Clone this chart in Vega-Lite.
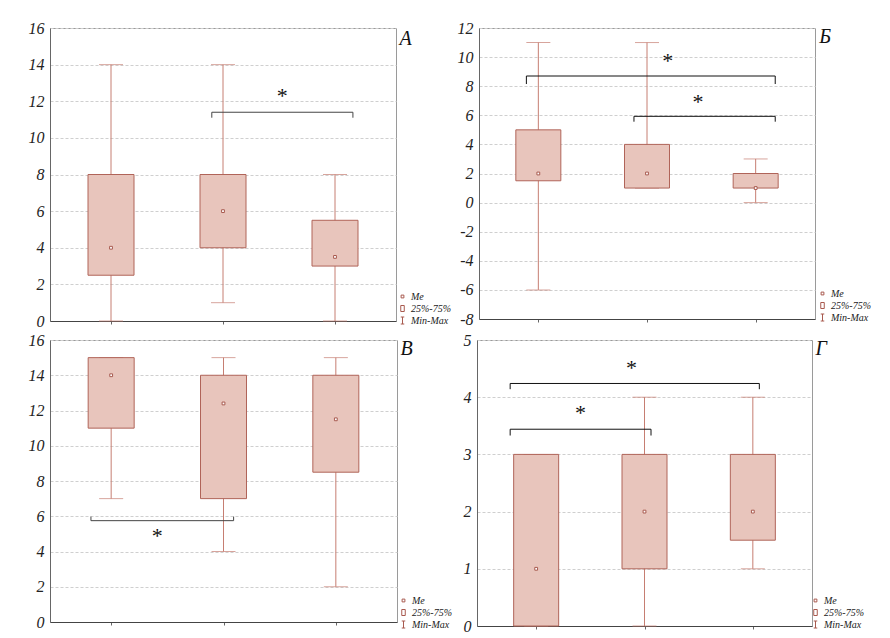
{
  "$schema": "https://vega.github.io/schema/vega-lite/v6.json",
  "padding": {"left": 27, "top": 19, "right": 0, "bottom": 0},
  "background": "white",
  "config": {
    "view": {"stroke": "#9a9a9a", "strokeWidth": 1},
    "font": "Liberation Serif",
    "axis": {"labelFont": "Liberation Serif", "labelFontStyle": "italic", "labelFontSize": 16, "labelColor": "#222", "labelOverlap": false, "domainColor": "#666", "tickColor": "#666", "title": null, "gridColor": "#cfcfcf", "gridDash": [3, 2]}
  },
  "datasets": {
    "A": [
      {"g": 1, "min": 0, "q1": 2.5, "med": 4, "q3": 8, "max": 14},
      {"g": 2, "min": 1, "q1": 4, "med": 6, "q3": 8, "max": 14},
      {"g": 3, "min": 0, "q1": 3, "med": 3.5, "q3": 5.5, "max": 8}
    ],
    "A_s": [
      {"xa": 1.9, "xb": 3.16, "y": 11.4, "yEnd": 11.1, "sx": 2.53, "sy": 12.5}
    ],
    "B": [
      {"g": 1, "min": -6, "q1": 1.5, "med": 2, "q3": 5, "max": 11},
      {"g": 2, "min": 1, "q1": 1, "med": 2, "q3": 4, "max": 11},
      {"g": 3, "min": 0, "q1": 1, "med": 1, "q3": 2, "max": 3}
    ],
    "B_s": [
      {"xa": 0.89, "xb": 3.18, "y": 8.7, "yEnd": 8.15, "sx": 2.19, "sy": 10.0},
      {"xa": 1.88, "xb": 3.18, "y": 5.93, "yEnd": 5.56, "sx": 2.47, "sy": 7.2}
    ],
    "C": [
      {"g": 1, "min": 7, "q1": 11, "med": 14, "q3": 15, "max": 15},
      {"g": 2, "min": 4, "q1": 7, "med": 12.4, "q3": 14, "max": 15},
      {"g": 3, "min": 2, "q1": 8.5, "med": 11.5, "q3": 14, "max": 15}
    ],
    "C_s": [
      {"xa": 0.82, "xb": 2.09, "y": 5.75, "yEnd": 5.98, "sx": 1.41, "sy": 5.1}
    ],
    "D": [
      {"g": 1, "min": 0, "q1": 0, "med": 1, "q3": 3, "max": 3},
      {"g": 2, "min": 0, "q1": 1, "med": 2, "q3": 3, "max": 4},
      {"g": 3, "min": 1, "q1": 1.5, "med": 2, "q3": 3, "max": 4}
    ],
    "D_s": [
      {"xa": 0.76, "xb": 3.06, "y": 4.24, "yEnd": 4.14, "sx": 1.88, "sy": 4.58},
      {"xa": 0.76, "xb": 2.06, "y": 3.44, "yEnd": 3.33, "sx": 1.41, "sy": 3.79}
    ]
  },
  "spacing": 1,
  "resolve": {"scale": {"shape": "independent"}, "legend": {"shape": "independent"}},
  "vconcat": [
    {
      "spacing": 4,
      "resolve": {"scale": {"shape": "independent"}, "legend": {"shape": "independent"}},
      "hconcat": [
        {
          "width": 346, "height": 293,
          "layer": [
            {"data": {"name": "A"}, "mark": {"type": "rule", "color": "#c67e72"},
             "encoding": {
               "x": {"field": "g", "type": "quantitative", "scale": {"domain": [0.5, 3.5], "zero": false, "nice": false}, "axis": {"values": [1, 2, 3], "labels": false, "grid": false, "tickSize": 3, "domainColor": "#444", "title": null}},
               "y": {"field": "min", "type": "quantitative", "scale": {"domain": [0, 16], "zero": false, "nice": false}, "axis": {"values": [0, 2, 4, 6, 8, 10, 12, 14, 16], "format": "d", "labelOverlap": false, "labelFont": "Liberation Serif", "labelFontStyle": "italic", "labelFontSize": 16, "grid": true, "ticks": false, "labelPadding": 6, "title": null}},
               "y2": {"field": "max"}}},
            {"data": {"name": "A"}, "mark": {"type": "tick", "orient": "horizontal", "color": "#c67e72", "size": 24, "thickness": 1},
             "encoding": {
               "x": {"field": "g", "type": "quantitative", "scale": {"domain": [0.5, 3.5], "zero": false, "nice": false}, "axis": {"values": [1, 2, 3], "labels": false, "grid": false, "tickSize": 3, "domainColor": "#444", "title": null}},
               "y": {"field": "min", "type": "quantitative", "scale": {"domain": [0, 16], "zero": false, "nice": false}, "axis": {"values": [0, 2, 4, 6, 8, 10, 12, 14, 16], "format": "d", "labelOverlap": false, "labelFont": "Liberation Serif", "labelFontStyle": "italic", "labelFontSize": 16, "grid": true, "ticks": false, "labelPadding": 6, "title": null}}}},
            {"data": {"name": "A"}, "mark": {"type": "tick", "orient": "horizontal", "color": "#c67e72", "size": 24, "thickness": 1},
             "encoding": {
               "x": {"field": "g", "type": "quantitative", "scale": {"domain": [0.5, 3.5], "zero": false, "nice": false}, "axis": {"values": [1, 2, 3], "labels": false, "grid": false, "tickSize": 3, "domainColor": "#444", "title": null}},
               "y": {"field": "max", "type": "quantitative", "scale": {"domain": [0, 16], "zero": false, "nice": false}, "axis": {"values": [0, 2, 4, 6, 8, 10, 12, 14, 16], "format": "d", "labelOverlap": false, "labelFont": "Liberation Serif", "labelFontStyle": "italic", "labelFontSize": 16, "grid": true, "ticks": false, "labelPadding": 6, "title": null}}}},
            {"data": {"name": "A"}, "mark": {"type": "bar", "width": 46, "fill": "#e8c5bc", "stroke": "#b06459", "strokeWidth": 1},
             "encoding": {
               "x": {"field": "g", "type": "quantitative", "scale": {"domain": [0.5, 3.5], "zero": false, "nice": false}, "axis": {"values": [1, 2, 3], "labels": false, "grid": false, "tickSize": 3, "domainColor": "#444", "title": null}},
               "y": {"field": "q1", "type": "quantitative", "scale": {"domain": [0, 16], "zero": false, "nice": false}, "axis": {"values": [0, 2, 4, 6, 8, 10, 12, 14, 16], "format": "d", "labelOverlap": false, "labelFont": "Liberation Serif", "labelFontStyle": "italic", "labelFontSize": 16, "grid": true, "ticks": false, "labelPadding": 6, "title": null}},
               "y2": {"field": "q3"}}},
            {"data": {"name": "A"}, "mark": {"type": "point", "filled": true, "fill": "#ffffff", "stroke": "#a85a4f", "strokeWidth": 1, "size": 100, "opacity": 1},
             "encoding": {
               "x": {"field": "g", "type": "quantitative", "scale": {"domain": [0.5, 3.5], "zero": false, "nice": false}, "axis": {"values": [1, 2, 3], "labels": false, "grid": false, "tickSize": 3, "domainColor": "#444", "title": null}},
               "y": {"field": "med", "type": "quantitative", "scale": {"domain": [0, 16], "zero": false, "nice": false}, "axis": {"values": [0, 2, 4, 6, 8, 10, 12, 14, 16], "format": "d", "labelOverlap": false, "labelFont": "Liberation Serif", "labelFontStyle": "italic", "labelFontSize": 16, "grid": true, "ticks": false, "labelPadding": 6, "title": null}},
               "shape": {"datum": "Me", "scale": {"domain": ["Me", "25%-75%", "Min-Max"], "range": ["M-0.28,-0.28H0.28V0.28H-0.28Z", "M-0.35,-0.6H0.35V0.6H-0.35Z", "M-0.35,-0.7H0.35M0,-0.7V0.7M-0.35,0.7H0.35"]},
                 "legend": {"orient": "none", "legendX": 347, "legendY": 263, "title": null, "padding": 0, "symbolSize": 100, "labelFont": "Liberation Serif", "labelFontStyle": "italic", "labelFontSize": 10, "labelColor": "#222", "rowPadding": 1, "labelOffset": 3, "symbolStrokeWidth": 1,
                   "encode": {"symbols": {"update": {"fill": {"signal": "datum.value === 'Me' ? '#ffffff' : datum.value === 'Min-Max' ? 'transparent' : '#e8c5bc'"}, "stroke": {"value": "#b06459"}, "opacity": {"value": 1}}}}}}}},
            {"data": {"name": "A_s"}, "mark": {"type": "rule", "color": "#444"},
             "encoding": {
               "x": {"field": "xa", "type": "quantitative", "scale": {"domain": [0.5, 3.5], "zero": false, "nice": false}, "axis": {"values": [1, 2, 3], "labels": false, "grid": false, "tickSize": 3, "domainColor": "#444", "title": null}},
               "x2": {"field": "xb"},
               "y": {"field": "y", "type": "quantitative", "scale": {"domain": [0, 16], "zero": false, "nice": false}, "axis": {"values": [0, 2, 4, 6, 8, 10, 12, 14, 16], "format": "d", "labelOverlap": false, "labelFont": "Liberation Serif", "labelFontStyle": "italic", "labelFontSize": 16, "grid": true, "ticks": false, "labelPadding": 6, "title": null}}}},
            {"data": {"name": "A_s"}, "mark": {"type": "rule", "color": "#444"},
             "encoding": {
               "x": {"field": "xa", "type": "quantitative", "scale": {"domain": [0.5, 3.5], "zero": false, "nice": false}, "axis": {"values": [1, 2, 3], "labels": false, "grid": false, "tickSize": 3, "domainColor": "#444", "title": null}},
               "y": {"field": "y", "type": "quantitative", "scale": {"domain": [0, 16], "zero": false, "nice": false}, "axis": {"values": [0, 2, 4, 6, 8, 10, 12, 14, 16], "format": "d", "labelOverlap": false, "labelFont": "Liberation Serif", "labelFontStyle": "italic", "labelFontSize": 16, "grid": true, "ticks": false, "labelPadding": 6, "title": null}},
               "y2": {"field": "yEnd"}}},
            {"data": {"name": "A_s"}, "mark": {"type": "rule", "color": "#444"},
             "encoding": {
               "x": {"field": "xb", "type": "quantitative", "scale": {"domain": [0.5, 3.5], "zero": false, "nice": false}, "axis": {"values": [1, 2, 3], "labels": false, "grid": false, "tickSize": 3, "domainColor": "#444", "title": null}},
               "y": {"field": "y", "type": "quantitative", "scale": {"domain": [0, 16], "zero": false, "nice": false}, "axis": {"values": [0, 2, 4, 6, 8, 10, 12, 14, 16], "format": "d", "labelOverlap": false, "labelFont": "Liberation Serif", "labelFontStyle": "italic", "labelFontSize": 16, "grid": true, "ticks": false, "labelPadding": 6, "title": null}},
               "y2": {"field": "yEnd"}}},
            {"data": {"name": "A_s"}, "mark": {"type": "text", "text": "*", "fontSize": 22, "font": "Liberation Serif", "color": "#111", "dy": 4},
             "encoding": {
               "x": {"field": "sx", "type": "quantitative", "scale": {"domain": [0.5, 3.5], "zero": false, "nice": false}, "axis": {"values": [1, 2, 3], "labels": false, "grid": false, "tickSize": 3, "domainColor": "#444", "title": null}},
               "y": {"field": "sy", "type": "quantitative", "scale": {"domain": [0, 16], "zero": false, "nice": false}, "axis": {"values": [0, 2, 4, 6, 8, 10, 12, 14, 16], "format": "d", "labelOverlap": false, "labelFont": "Liberation Serif", "labelFontStyle": "italic", "labelFontSize": 16, "grid": true, "ticks": false, "labelPadding": 6, "title": null}}}},
            {"data": {"values": [{"x": 3.63, "y": 15.4, "t": "А"}]}, "mark": {"type": "text", "fontSize": 20, "fontStyle": "italic", "font": "Liberation Serif", "color": "#111"},
             "encoding": {
               "x": {"field": "x", "type": "quantitative", "scale": {"domain": [0.5, 3.5], "zero": false, "nice": false}, "axis": {"values": [1, 2, 3], "labels": false, "grid": false, "tickSize": 3, "domainColor": "#444", "title": null}},
               "y": {"field": "y", "type": "quantitative", "scale": {"domain": [0, 16], "zero": false, "nice": false}, "axis": {"values": [0, 2, 4, 6, 8, 10, 12, 14, 16], "format": "d", "labelOverlap": false, "labelFont": "Liberation Serif", "labelFontStyle": "italic", "labelFontSize": 16, "grid": true, "ticks": false, "labelPadding": 6, "title": null}},
               "text": {"field": "t"}}}
          ]
        },
        {
          "width": 336, "height": 291,
          "layer": [
            {"data": {"name": "B"}, "mark": {"type": "rule", "color": "#c67e72"},
             "encoding": {
               "x": {"field": "g", "type": "quantitative", "scale": {"domain": [0.5, 3.5], "zero": false, "nice": false}, "axis": {"values": [1, 2, 3], "labels": false, "grid": false, "tickSize": 3, "domainColor": "#444", "title": null}},
               "y": {"field": "min", "type": "quantitative", "scale": {"domain": [-8, 12], "zero": false, "nice": false}, "axis": {"values": [-8, -6, -4, -2, 0, 2, 4, 6, 8, 10, 12], "format": "d", "labelOverlap": false, "labelFont": "Liberation Serif", "labelFontStyle": "italic", "labelFontSize": 16, "grid": true, "ticks": false, "labelPadding": 6, "title": null, "labelExpr": "replace(datum.label, '\u2212', '-')"}},
               "y2": {"field": "max"}}},
            {"data": {"name": "B"}, "mark": {"type": "tick", "orient": "horizontal", "color": "#c67e72", "size": 24, "thickness": 1},
             "encoding": {
               "x": {"field": "g", "type": "quantitative", "scale": {"domain": [0.5, 3.5], "zero": false, "nice": false}, "axis": {"values": [1, 2, 3], "labels": false, "grid": false, "tickSize": 3, "domainColor": "#444", "title": null}},
               "y": {"field": "min", "type": "quantitative", "scale": {"domain": [-8, 12], "zero": false, "nice": false}, "axis": {"values": [-8, -6, -4, -2, 0, 2, 4, 6, 8, 10, 12], "format": "d", "labelOverlap": false, "labelFont": "Liberation Serif", "labelFontStyle": "italic", "labelFontSize": 16, "grid": true, "ticks": false, "labelPadding": 6, "title": null, "labelExpr": "replace(datum.label, '\u2212', '-')"}}}},
            {"data": {"name": "B"}, "mark": {"type": "tick", "orient": "horizontal", "color": "#c67e72", "size": 24, "thickness": 1},
             "encoding": {
               "x": {"field": "g", "type": "quantitative", "scale": {"domain": [0.5, 3.5], "zero": false, "nice": false}, "axis": {"values": [1, 2, 3], "labels": false, "grid": false, "tickSize": 3, "domainColor": "#444", "title": null}},
               "y": {"field": "max", "type": "quantitative", "scale": {"domain": [-8, 12], "zero": false, "nice": false}, "axis": {"values": [-8, -6, -4, -2, 0, 2, 4, 6, 8, 10, 12], "format": "d", "labelOverlap": false, "labelFont": "Liberation Serif", "labelFontStyle": "italic", "labelFontSize": 16, "grid": true, "ticks": false, "labelPadding": 6, "title": null, "labelExpr": "replace(datum.label, '\u2212', '-')"}}}},
            {"data": {"name": "B"}, "mark": {"type": "bar", "width": 45, "fill": "#e8c5bc", "stroke": "#b06459", "strokeWidth": 1},
             "encoding": {
               "x": {"field": "g", "type": "quantitative", "scale": {"domain": [0.5, 3.5], "zero": false, "nice": false}, "axis": {"values": [1, 2, 3], "labels": false, "grid": false, "tickSize": 3, "domainColor": "#444", "title": null}},
               "y": {"field": "q1", "type": "quantitative", "scale": {"domain": [-8, 12], "zero": false, "nice": false}, "axis": {"values": [-8, -6, -4, -2, 0, 2, 4, 6, 8, 10, 12], "format": "d", "labelOverlap": false, "labelFont": "Liberation Serif", "labelFontStyle": "italic", "labelFontSize": 16, "grid": true, "ticks": false, "labelPadding": 6, "title": null, "labelExpr": "replace(datum.label, '\u2212', '-')"}},
               "y2": {"field": "q3"}}},
            {"data": {"name": "B"}, "mark": {"type": "point", "filled": true, "fill": "#ffffff", "stroke": "#a85a4f", "strokeWidth": 1, "size": 100, "opacity": 1},
             "encoding": {
               "x": {"field": "g", "type": "quantitative", "scale": {"domain": [0.5, 3.5], "zero": false, "nice": false}, "axis": {"values": [1, 2, 3], "labels": false, "grid": false, "tickSize": 3, "domainColor": "#444", "title": null}},
               "y": {"field": "med", "type": "quantitative", "scale": {"domain": [-8, 12], "zero": false, "nice": false}, "axis": {"values": [-8, -6, -4, -2, 0, 2, 4, 6, 8, 10, 12], "format": "d", "labelOverlap": false, "labelFont": "Liberation Serif", "labelFontStyle": "italic", "labelFontSize": 16, "grid": true, "ticks": false, "labelPadding": 6, "title": null, "labelExpr": "replace(datum.label, '\u2212', '-')"}},
               "shape": {"datum": "Me", "scale": {"domain": ["Me", "25%-75%", "Min-Max"], "range": ["M-0.28,-0.28H0.28V0.28H-0.28Z", "M-0.35,-0.6H0.35V0.6H-0.35Z", "M-0.35,-0.7H0.35M0,-0.7V0.7M-0.35,0.7H0.35"]},
                 "legend": {"orient": "none", "legendX": 338, "legendY": 260, "title": null, "padding": 0, "symbolSize": 100, "labelFont": "Liberation Serif", "labelFontStyle": "italic", "labelFontSize": 10, "labelColor": "#222", "rowPadding": 1, "labelOffset": 3, "symbolStrokeWidth": 1,
                   "encode": {"symbols": {"update": {"fill": {"signal": "datum.value === 'Me' ? '#ffffff' : datum.value === 'Min-Max' ? 'transparent' : '#e8c5bc'"}, "stroke": {"value": "#b06459"}, "opacity": {"value": 1}}}}}}}},
            {"data": {"name": "B_s"}, "mark": {"type": "rule", "color": "#111"},
             "encoding": {
               "x": {"field": "xa", "type": "quantitative", "scale": {"domain": [0.5, 3.5], "zero": false, "nice": false}, "axis": {"values": [1, 2, 3], "labels": false, "grid": false, "tickSize": 3, "domainColor": "#444", "title": null}},
               "x2": {"field": "xb"},
               "y": {"field": "y", "type": "quantitative", "scale": {"domain": [-8, 12], "zero": false, "nice": false}, "axis": {"values": [-8, -6, -4, -2, 0, 2, 4, 6, 8, 10, 12], "format": "d", "labelOverlap": false, "labelFont": "Liberation Serif", "labelFontStyle": "italic", "labelFontSize": 16, "grid": true, "ticks": false, "labelPadding": 6, "title": null, "labelExpr": "replace(datum.label, '\u2212', '-')"}}}},
            {"data": {"name": "B_s"}, "mark": {"type": "rule", "color": "#111"},
             "encoding": {
               "x": {"field": "xa", "type": "quantitative", "scale": {"domain": [0.5, 3.5], "zero": false, "nice": false}, "axis": {"values": [1, 2, 3], "labels": false, "grid": false, "tickSize": 3, "domainColor": "#444", "title": null}},
               "y": {"field": "y", "type": "quantitative", "scale": {"domain": [-8, 12], "zero": false, "nice": false}, "axis": {"values": [-8, -6, -4, -2, 0, 2, 4, 6, 8, 10, 12], "format": "d", "labelOverlap": false, "labelFont": "Liberation Serif", "labelFontStyle": "italic", "labelFontSize": 16, "grid": true, "ticks": false, "labelPadding": 6, "title": null, "labelExpr": "replace(datum.label, '\u2212', '-')"}},
               "y2": {"field": "yEnd"}}},
            {"data": {"name": "B_s"}, "mark": {"type": "rule", "color": "#111"},
             "encoding": {
               "x": {"field": "xb", "type": "quantitative", "scale": {"domain": [0.5, 3.5], "zero": false, "nice": false}, "axis": {"values": [1, 2, 3], "labels": false, "grid": false, "tickSize": 3, "domainColor": "#444", "title": null}},
               "y": {"field": "y", "type": "quantitative", "scale": {"domain": [-8, 12], "zero": false, "nice": false}, "axis": {"values": [-8, -6, -4, -2, 0, 2, 4, 6, 8, 10, 12], "format": "d", "labelOverlap": false, "labelFont": "Liberation Serif", "labelFontStyle": "italic", "labelFontSize": 16, "grid": true, "ticks": false, "labelPadding": 6, "title": null, "labelExpr": "replace(datum.label, '\u2212', '-')"}},
               "y2": {"field": "yEnd"}}},
            {"data": {"name": "B_s"}, "mark": {"type": "text", "text": "*", "fontSize": 22, "font": "Liberation Serif", "color": "#111", "dy": 4},
             "encoding": {
               "x": {"field": "sx", "type": "quantitative", "scale": {"domain": [0.5, 3.5], "zero": false, "nice": false}, "axis": {"values": [1, 2, 3], "labels": false, "grid": false, "tickSize": 3, "domainColor": "#444", "title": null}},
               "y": {"field": "sy", "type": "quantitative", "scale": {"domain": [-8, 12], "zero": false, "nice": false}, "axis": {"values": [-8, -6, -4, -2, 0, 2, 4, 6, 8, 10, 12], "format": "d", "labelOverlap": false, "labelFont": "Liberation Serif", "labelFontStyle": "italic", "labelFontSize": 16, "grid": true, "ticks": false, "labelPadding": 6, "title": null, "labelExpr": "replace(datum.label, '\u2212', '-')"}}}},
            {"data": {"values": [{"x": 3.64, "y": 11.4, "t": "Б"}]}, "mark": {"type": "text", "fontSize": 20, "fontStyle": "italic", "font": "Liberation Serif", "color": "#111"},
             "encoding": {
               "x": {"field": "x", "type": "quantitative", "scale": {"domain": [0.5, 3.5], "zero": false, "nice": false}, "axis": {"values": [1, 2, 3], "labels": false, "grid": false, "tickSize": 3, "domainColor": "#444", "title": null}},
               "y": {"field": "y", "type": "quantitative", "scale": {"domain": [-8, 12], "zero": false, "nice": false}, "axis": {"values": [-8, -6, -4, -2, 0, 2, 4, 6, 8, 10, 12], "format": "d", "labelOverlap": false, "labelFont": "Liberation Serif", "labelFontStyle": "italic", "labelFontSize": 16, "grid": true, "ticks": false, "labelPadding": 6, "title": null, "labelExpr": "replace(datum.label, '\u2212', '-')"}},
               "text": {"field": "t"}}}
          ]
        }
      ]
    },
    {
      "spacing": 9,
      "resolve": {"scale": {"shape": "independent"}, "legend": {"shape": "independent"}},
      "hconcat": [
        {
          "width": 347, "height": 282,
          "layer": [
            {"data": {"name": "C"}, "mark": {"type": "rule", "color": "#c67e72"},
             "encoding": {
               "x": {"field": "g", "type": "quantitative", "scale": {"domain": [0.5, 3.5], "zero": false, "nice": false}, "axis": {"values": [1, 2, 3], "labels": false, "grid": false, "tickSize": 3, "domainColor": "#444", "title": null}},
               "y": {"field": "min", "type": "quantitative", "scale": {"domain": [0, 16], "zero": false, "nice": false}, "axis": {"values": [0, 2, 4, 6, 8, 10, 12, 14, 16], "format": "d", "labelOverlap": false, "labelFont": "Liberation Serif", "labelFontStyle": "italic", "labelFontSize": 16, "grid": true, "ticks": false, "labelPadding": 6, "title": null}},
               "y2": {"field": "max"}}},
            {"data": {"name": "C"}, "mark": {"type": "tick", "orient": "horizontal", "color": "#c67e72", "size": 24, "thickness": 1},
             "encoding": {
               "x": {"field": "g", "type": "quantitative", "scale": {"domain": [0.5, 3.5], "zero": false, "nice": false}, "axis": {"values": [1, 2, 3], "labels": false, "grid": false, "tickSize": 3, "domainColor": "#444", "title": null}},
               "y": {"field": "min", "type": "quantitative", "scale": {"domain": [0, 16], "zero": false, "nice": false}, "axis": {"values": [0, 2, 4, 6, 8, 10, 12, 14, 16], "format": "d", "labelOverlap": false, "labelFont": "Liberation Serif", "labelFontStyle": "italic", "labelFontSize": 16, "grid": true, "ticks": false, "labelPadding": 6, "title": null}}}},
            {"data": {"name": "C"}, "mark": {"type": "tick", "orient": "horizontal", "color": "#c67e72", "size": 24, "thickness": 1},
             "encoding": {
               "x": {"field": "g", "type": "quantitative", "scale": {"domain": [0.5, 3.5], "zero": false, "nice": false}, "axis": {"values": [1, 2, 3], "labels": false, "grid": false, "tickSize": 3, "domainColor": "#444", "title": null}},
               "y": {"field": "max", "type": "quantitative", "scale": {"domain": [0, 16], "zero": false, "nice": false}, "axis": {"values": [0, 2, 4, 6, 8, 10, 12, 14, 16], "format": "d", "labelOverlap": false, "labelFont": "Liberation Serif", "labelFontStyle": "italic", "labelFontSize": 16, "grid": true, "ticks": false, "labelPadding": 6, "title": null}}}},
            {"data": {"name": "C"}, "mark": {"type": "bar", "width": 46, "fill": "#e8c5bc", "stroke": "#b06459", "strokeWidth": 1},
             "encoding": {
               "x": {"field": "g", "type": "quantitative", "scale": {"domain": [0.5, 3.5], "zero": false, "nice": false}, "axis": {"values": [1, 2, 3], "labels": false, "grid": false, "tickSize": 3, "domainColor": "#444", "title": null}},
               "y": {"field": "q1", "type": "quantitative", "scale": {"domain": [0, 16], "zero": false, "nice": false}, "axis": {"values": [0, 2, 4, 6, 8, 10, 12, 14, 16], "format": "d", "labelOverlap": false, "labelFont": "Liberation Serif", "labelFontStyle": "italic", "labelFontSize": 16, "grid": true, "ticks": false, "labelPadding": 6, "title": null}},
               "y2": {"field": "q3"}}},
            {"data": {"name": "C"}, "mark": {"type": "point", "filled": true, "fill": "#ffffff", "stroke": "#a85a4f", "strokeWidth": 1, "size": 100, "opacity": 1},
             "encoding": {
               "x": {"field": "g", "type": "quantitative", "scale": {"domain": [0.5, 3.5], "zero": false, "nice": false}, "axis": {"values": [1, 2, 3], "labels": false, "grid": false, "tickSize": 3, "domainColor": "#444", "title": null}},
               "y": {"field": "med", "type": "quantitative", "scale": {"domain": [0, 16], "zero": false, "nice": false}, "axis": {"values": [0, 2, 4, 6, 8, 10, 12, 14, 16], "format": "d", "labelOverlap": false, "labelFont": "Liberation Serif", "labelFontStyle": "italic", "labelFontSize": 16, "grid": true, "ticks": false, "labelPadding": 6, "title": null}},
               "shape": {"datum": "Me", "scale": {"domain": ["Me", "25%-75%", "Min-Max"], "range": ["M-0.28,-0.28H0.28V0.28H-0.28Z", "M-0.35,-0.6H0.35V0.6H-0.35Z", "M-0.35,-0.7H0.35M0,-0.7V0.7M-0.35,0.7H0.35"]},
                 "legend": {"orient": "none", "legendX": 348, "legendY": 255, "title": null, "padding": 0, "symbolSize": 100, "labelFont": "Liberation Serif", "labelFontStyle": "italic", "labelFontSize": 10, "labelColor": "#222", "rowPadding": 1, "labelOffset": 3, "symbolStrokeWidth": 1,
                   "encode": {"symbols": {"update": {"fill": {"signal": "datum.value === 'Me' ? '#ffffff' : datum.value === 'Min-Max' ? 'transparent' : '#e8c5bc'"}, "stroke": {"value": "#b06459"}, "opacity": {"value": 1}}}}}}}},
            {"data": {"name": "C_s"}, "mark": {"type": "rule", "color": "#444"},
             "encoding": {
               "x": {"field": "xa", "type": "quantitative", "scale": {"domain": [0.5, 3.5], "zero": false, "nice": false}, "axis": {"values": [1, 2, 3], "labels": false, "grid": false, "tickSize": 3, "domainColor": "#444", "title": null}},
               "x2": {"field": "xb"},
               "y": {"field": "y", "type": "quantitative", "scale": {"domain": [0, 16], "zero": false, "nice": false}, "axis": {"values": [0, 2, 4, 6, 8, 10, 12, 14, 16], "format": "d", "labelOverlap": false, "labelFont": "Liberation Serif", "labelFontStyle": "italic", "labelFontSize": 16, "grid": true, "ticks": false, "labelPadding": 6, "title": null}}}},
            {"data": {"name": "C_s"}, "mark": {"type": "rule", "color": "#444"},
             "encoding": {
               "x": {"field": "xa", "type": "quantitative", "scale": {"domain": [0.5, 3.5], "zero": false, "nice": false}, "axis": {"values": [1, 2, 3], "labels": false, "grid": false, "tickSize": 3, "domainColor": "#444", "title": null}},
               "y": {"field": "y", "type": "quantitative", "scale": {"domain": [0, 16], "zero": false, "nice": false}, "axis": {"values": [0, 2, 4, 6, 8, 10, 12, 14, 16], "format": "d", "labelOverlap": false, "labelFont": "Liberation Serif", "labelFontStyle": "italic", "labelFontSize": 16, "grid": true, "ticks": false, "labelPadding": 6, "title": null}},
               "y2": {"field": "yEnd"}}},
            {"data": {"name": "C_s"}, "mark": {"type": "rule", "color": "#444"},
             "encoding": {
               "x": {"field": "xb", "type": "quantitative", "scale": {"domain": [0.5, 3.5], "zero": false, "nice": false}, "axis": {"values": [1, 2, 3], "labels": false, "grid": false, "tickSize": 3, "domainColor": "#444", "title": null}},
               "y": {"field": "y", "type": "quantitative", "scale": {"domain": [0, 16], "zero": false, "nice": false}, "axis": {"values": [0, 2, 4, 6, 8, 10, 12, 14, 16], "format": "d", "labelOverlap": false, "labelFont": "Liberation Serif", "labelFontStyle": "italic", "labelFontSize": 16, "grid": true, "ticks": false, "labelPadding": 6, "title": null}},
               "y2": {"field": "yEnd"}}},
            {"data": {"name": "C_s"}, "mark": {"type": "text", "text": "*", "fontSize": 22, "font": "Liberation Serif", "color": "#111", "dy": 4},
             "encoding": {
               "x": {"field": "sx", "type": "quantitative", "scale": {"domain": [0.5, 3.5], "zero": false, "nice": false}, "axis": {"values": [1, 2, 3], "labels": false, "grid": false, "tickSize": 3, "domainColor": "#444", "title": null}},
               "y": {"field": "sy", "type": "quantitative", "scale": {"domain": [0, 16], "zero": false, "nice": false}, "axis": {"values": [0, 2, 4, 6, 8, 10, 12, 14, 16], "format": "d", "labelOverlap": false, "labelFont": "Liberation Serif", "labelFontStyle": "italic", "labelFontSize": 16, "grid": true, "ticks": false, "labelPadding": 6, "title": null}}}},
            {"data": {"values": [{"x": 3.63, "y": 15.5, "t": "В"}]}, "mark": {"type": "text", "fontSize": 20, "fontStyle": "italic", "font": "Liberation Serif", "color": "#111"},
             "encoding": {
               "x": {"field": "x", "type": "quantitative", "scale": {"domain": [0.5, 3.5], "zero": false, "nice": false}, "axis": {"values": [1, 2, 3], "labels": false, "grid": false, "tickSize": 3, "domainColor": "#444", "title": null}},
               "y": {"field": "y", "type": "quantitative", "scale": {"domain": [0, 16], "zero": false, "nice": false}, "axis": {"values": [0, 2, 4, 6, 8, 10, 12, 14, 16], "format": "d", "labelOverlap": false, "labelFont": "Liberation Serif", "labelFontStyle": "italic", "labelFontSize": 16, "grid": true, "ticks": false, "labelPadding": 6, "title": null}},
               "text": {"field": "t"}}}
          ]
        },
        {
          "width": 335, "height": 286,
          "layer": [
            {"data": {"name": "D"}, "mark": {"type": "rule", "color": "#c67e72"},
             "encoding": {
               "x": {"field": "g", "type": "quantitative", "scale": {"domain": [0.5, 3.5], "zero": false, "nice": false}, "axis": {"values": [1, 2, 3], "labels": false, "grid": false, "tickSize": 3, "domainColor": "#444", "title": null}},
               "y": {"field": "min", "type": "quantitative", "scale": {"domain": [0, 5], "zero": false, "nice": false}, "axis": {"values": [0, 1, 2, 3, 4, 5], "format": "d", "labelOverlap": false, "labelFont": "Liberation Serif", "labelFontStyle": "italic", "labelFontSize": 16, "grid": true, "ticks": false, "labelPadding": 6, "title": null}},
               "y2": {"field": "max"}}},
            {"data": {"name": "D"}, "mark": {"type": "tick", "orient": "horizontal", "color": "#c67e72", "size": 24, "thickness": 1},
             "encoding": {
               "x": {"field": "g", "type": "quantitative", "scale": {"domain": [0.5, 3.5], "zero": false, "nice": false}, "axis": {"values": [1, 2, 3], "labels": false, "grid": false, "tickSize": 3, "domainColor": "#444", "title": null}},
               "y": {"field": "min", "type": "quantitative", "scale": {"domain": [0, 5], "zero": false, "nice": false}, "axis": {"values": [0, 1, 2, 3, 4, 5], "format": "d", "labelOverlap": false, "labelFont": "Liberation Serif", "labelFontStyle": "italic", "labelFontSize": 16, "grid": true, "ticks": false, "labelPadding": 6, "title": null}}}},
            {"data": {"name": "D"}, "mark": {"type": "tick", "orient": "horizontal", "color": "#c67e72", "size": 24, "thickness": 1},
             "encoding": {
               "x": {"field": "g", "type": "quantitative", "scale": {"domain": [0.5, 3.5], "zero": false, "nice": false}, "axis": {"values": [1, 2, 3], "labels": false, "grid": false, "tickSize": 3, "domainColor": "#444", "title": null}},
               "y": {"field": "max", "type": "quantitative", "scale": {"domain": [0, 5], "zero": false, "nice": false}, "axis": {"values": [0, 1, 2, 3, 4, 5], "format": "d", "labelOverlap": false, "labelFont": "Liberation Serif", "labelFontStyle": "italic", "labelFontSize": 16, "grid": true, "ticks": false, "labelPadding": 6, "title": null}}}},
            {"data": {"name": "D"}, "mark": {"type": "bar", "width": 45, "fill": "#e8c5bc", "stroke": "#b06459", "strokeWidth": 1},
             "encoding": {
               "x": {"field": "g", "type": "quantitative", "scale": {"domain": [0.5, 3.5], "zero": false, "nice": false}, "axis": {"values": [1, 2, 3], "labels": false, "grid": false, "tickSize": 3, "domainColor": "#444", "title": null}},
               "y": {"field": "q1", "type": "quantitative", "scale": {"domain": [0, 5], "zero": false, "nice": false}, "axis": {"values": [0, 1, 2, 3, 4, 5], "format": "d", "labelOverlap": false, "labelFont": "Liberation Serif", "labelFontStyle": "italic", "labelFontSize": 16, "grid": true, "ticks": false, "labelPadding": 6, "title": null}},
               "y2": {"field": "q3"}}},
            {"data": {"name": "D"}, "mark": {"type": "point", "filled": true, "fill": "#ffffff", "stroke": "#a85a4f", "strokeWidth": 1, "size": 100, "opacity": 1},
             "encoding": {
               "x": {"field": "g", "type": "quantitative", "scale": {"domain": [0.5, 3.5], "zero": false, "nice": false}, "axis": {"values": [1, 2, 3], "labels": false, "grid": false, "tickSize": 3, "domainColor": "#444", "title": null}},
               "y": {"field": "med", "type": "quantitative", "scale": {"domain": [0, 5], "zero": false, "nice": false}, "axis": {"values": [0, 1, 2, 3, 4, 5], "format": "d", "labelOverlap": false, "labelFont": "Liberation Serif", "labelFontStyle": "italic", "labelFontSize": 16, "grid": true, "ticks": false, "labelPadding": 6, "title": null}},
               "shape": {"datum": "Me", "scale": {"domain": ["Me", "25%-75%", "Min-Max"], "range": ["M-0.28,-0.28H0.28V0.28H-0.28Z", "M-0.35,-0.6H0.35V0.6H-0.35Z", "M-0.35,-0.7H0.35M0,-0.7V0.7M-0.35,0.7H0.35"]},
                 "legend": {"orient": "none", "legendX": 333, "legendY": 255, "title": null, "padding": 0, "symbolSize": 100, "labelFont": "Liberation Serif", "labelFontStyle": "italic", "labelFontSize": 10, "labelColor": "#222", "rowPadding": 1, "labelOffset": 3, "symbolStrokeWidth": 1,
                   "encode": {"symbols": {"update": {"fill": {"signal": "datum.value === 'Me' ? '#ffffff' : datum.value === 'Min-Max' ? 'transparent' : '#e8c5bc'"}, "stroke": {"value": "#b06459"}, "opacity": {"value": 1}}}}}}}},
            {"data": {"name": "D_s"}, "mark": {"type": "rule", "color": "#111"},
             "encoding": {
               "x": {"field": "xa", "type": "quantitative", "scale": {"domain": [0.5, 3.5], "zero": false, "nice": false}, "axis": {"values": [1, 2, 3], "labels": false, "grid": false, "tickSize": 3, "domainColor": "#444", "title": null}},
               "x2": {"field": "xb"},
               "y": {"field": "y", "type": "quantitative", "scale": {"domain": [0, 5], "zero": false, "nice": false}, "axis": {"values": [0, 1, 2, 3, 4, 5], "format": "d", "labelOverlap": false, "labelFont": "Liberation Serif", "labelFontStyle": "italic", "labelFontSize": 16, "grid": true, "ticks": false, "labelPadding": 6, "title": null}}}},
            {"data": {"name": "D_s"}, "mark": {"type": "rule", "color": "#111"},
             "encoding": {
               "x": {"field": "xa", "type": "quantitative", "scale": {"domain": [0.5, 3.5], "zero": false, "nice": false}, "axis": {"values": [1, 2, 3], "labels": false, "grid": false, "tickSize": 3, "domainColor": "#444", "title": null}},
               "y": {"field": "y", "type": "quantitative", "scale": {"domain": [0, 5], "zero": false, "nice": false}, "axis": {"values": [0, 1, 2, 3, 4, 5], "format": "d", "labelOverlap": false, "labelFont": "Liberation Serif", "labelFontStyle": "italic", "labelFontSize": 16, "grid": true, "ticks": false, "labelPadding": 6, "title": null}},
               "y2": {"field": "yEnd"}}},
            {"data": {"name": "D_s"}, "mark": {"type": "rule", "color": "#111"},
             "encoding": {
               "x": {"field": "xb", "type": "quantitative", "scale": {"domain": [0.5, 3.5], "zero": false, "nice": false}, "axis": {"values": [1, 2, 3], "labels": false, "grid": false, "tickSize": 3, "domainColor": "#444", "title": null}},
               "y": {"field": "y", "type": "quantitative", "scale": {"domain": [0, 5], "zero": false, "nice": false}, "axis": {"values": [0, 1, 2, 3, 4, 5], "format": "d", "labelOverlap": false, "labelFont": "Liberation Serif", "labelFontStyle": "italic", "labelFontSize": 16, "grid": true, "ticks": false, "labelPadding": 6, "title": null}},
               "y2": {"field": "yEnd"}}},
            {"data": {"name": "D_s"}, "mark": {"type": "text", "text": "*", "fontSize": 22, "font": "Liberation Serif", "color": "#111", "dy": 4},
             "encoding": {
               "x": {"field": "sx", "type": "quantitative", "scale": {"domain": [0.5, 3.5], "zero": false, "nice": false}, "axis": {"values": [1, 2, 3], "labels": false, "grid": false, "tickSize": 3, "domainColor": "#444", "title": null}},
               "y": {"field": "sy", "type": "quantitative", "scale": {"domain": [0, 5], "zero": false, "nice": false}, "axis": {"values": [0, 1, 2, 3, 4, 5], "format": "d", "labelOverlap": false, "labelFont": "Liberation Serif", "labelFontStyle": "italic", "labelFontSize": 16, "grid": true, "ticks": false, "labelPadding": 6, "title": null}}}},
            {"data": {"values": [{"x": 3.63, "y": 4.84, "t": "Г"}]}, "mark": {"type": "text", "fontSize": 20, "fontStyle": "italic", "font": "Liberation Serif", "color": "#111"},
             "encoding": {
               "x": {"field": "x", "type": "quantitative", "scale": {"domain": [0.5, 3.5], "zero": false, "nice": false}, "axis": {"values": [1, 2, 3], "labels": false, "grid": false, "tickSize": 3, "domainColor": "#444", "title": null}},
               "y": {"field": "y", "type": "quantitative", "scale": {"domain": [0, 5], "zero": false, "nice": false}, "axis": {"values": [0, 1, 2, 3, 4, 5], "format": "d", "labelOverlap": false, "labelFont": "Liberation Serif", "labelFontStyle": "italic", "labelFontSize": 16, "grid": true, "ticks": false, "labelPadding": 6, "title": null}},
               "text": {"field": "t"}}}
          ]
        }
      ]
    }
  ]
}
